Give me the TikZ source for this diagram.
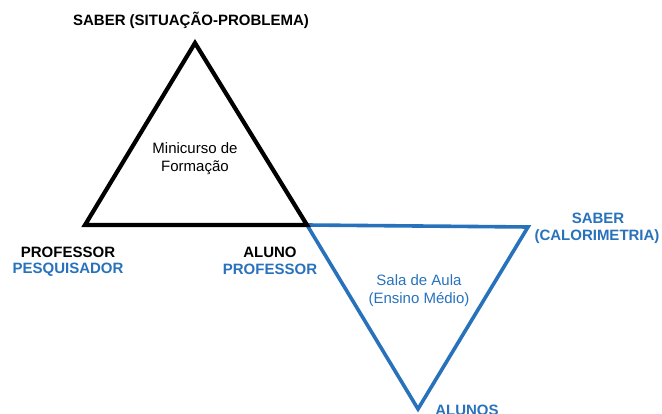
\documentclass[tikz,border=0pt]{standalone}
\usepackage{fontspec}
\setmainfont{Liberation Sans}
\definecolor{myblue}{RGB}{40,114,188}
\begin{document}
\begin{tikzpicture}[x=1pt,y=-1pt,
  lbl/.style={font=\bfseries\fontsize{15}{17}\selectfont, inner sep=0pt, align=center},
  inner/.style={font=\fontsize{15}{18}\selectfont, inner sep=0pt, align=center}]
\useasboundingbox (0,0) rectangle (662,414);
\coordinate (A) at (195,43);
\coordinate (B) at (85,225);
\coordinate (C) at (307,225);
\coordinate (D) at (528,227);
\coordinate (E) at (418,409);
\draw[myblue, line width=3.6pt, line join=miter] (C) -- (D) -- (E) -- cycle;
\draw[black, line width=4.2pt, line join=miter] (A) -- (B) -- (C) -- cycle;
\node[lbl] (saber1) at (191,20) {SABER (SITUAÇÃO-PROBLEMA)};
\node[lbl] (prof) at (68,252) {PROFESSOR};
\node[lbl, text=myblue] (pesq) at (68,269.5) {PESQUISADOR};
\node[lbl] (aluno) at (270,252) {ALUNO};
\node[lbl, text=myblue] (prof2) at (270,269.5) {PROFESSOR};
\node[lbl, text=myblue] (saber2) at (598,218) {SABER};
\node[lbl, text=myblue] (calor) at (597,237) {(CALORIMETRIA)};
\node[lbl, text=myblue] (alunos) at (467,410) {ALUNOS};
\node[inner] (mini) at (195,159) {Minicurso de\\Formação};
\node[inner, text=myblue] (sala) at (419,291) {Sala de Aula\\(Ensino Médio)};
\end{tikzpicture}
\end{document}
